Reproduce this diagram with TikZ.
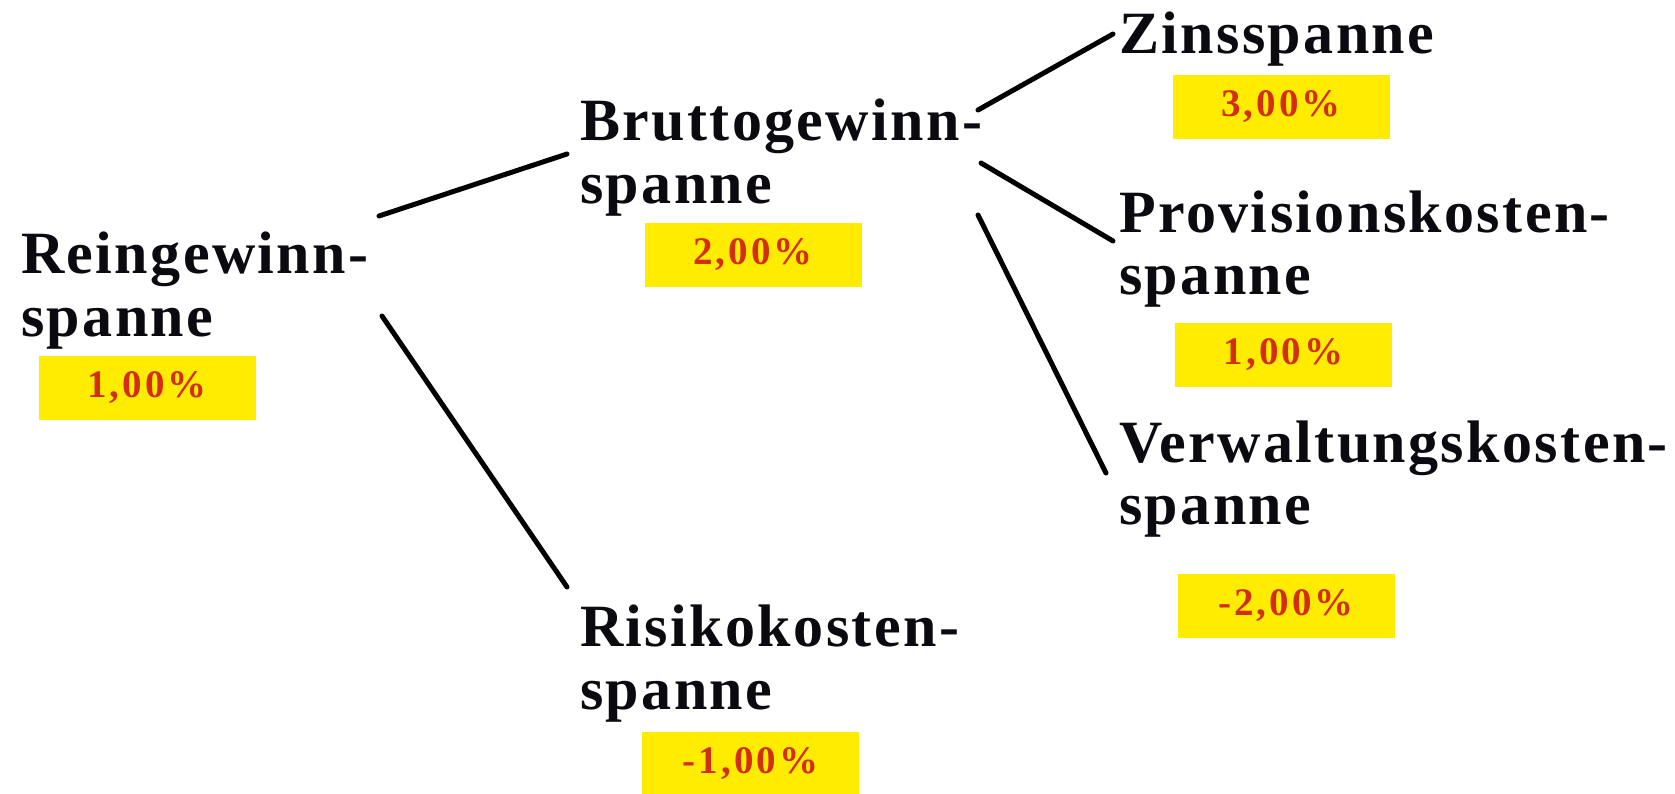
\documentclass[tikz,border=0pt]{standalone}
\usepackage{fontspec}
\setmainfont{Liberation Serif}
\newfontfamily\headfont[LetterSpace=4]{Liberation Serif}
\newfontfamily\pctfont[LetterSpace=8]{Liberation Serif}
\definecolor{boxyellow}{RGB}{255,236,0}
\definecolor{pctred}{RGB}{212,46,18}
\definecolor{headink}{RGB}{10,10,16}
\tikzset{
  head/.style={font=\headfont\bfseries\fontsize{60}{64}\selectfont, anchor=base west, inner sep=0pt, text=headink},
  pctbox/.style={fill=boxyellow, minimum width=217pt, minimum height=64pt, inner sep=0pt, text=pctred,
    font=\pctfont\bfseries\fontsize{39}{39}\selectfont},
  conn/.style={line width=5pt, line cap=round, black}
}
\begin{document}
\begin{tikzpicture}[x=1pt,y=-1pt]
\useasboundingbox (0,0) rectangle (1675,793);
\fill[white] (0,0) rectangle (1675,793);
% Reingewinnspanne
\node[head] (rein1) at (21,273) {Reingewinn-};
\node[head] (rein2) at (21,336) {spanne};
\node[pctbox] (reinp) at (147,387.5) {1,00\%};
% Bruttogewinnspanne
\node[head] (brut1) at (580,140) {Bruttogewinn-};
\node[head] (brut2) at (580,203) {spanne};
\node[pctbox] (brutp) at (753,254.5) {2,00\%};
% Risikokostenspanne
\node[head] (risk1) at (580,646) {Risikokosten-};
\node[head] (risk2) at (580,709) {spanne};
\node[pctbox] (riskp) at (750.5,764) {-1,00\%};
% Zinsspanne
\node[head] (zins1) at (1119,53) {Zinsspanne};
\node[pctbox] (zinsp) at (1281,107) {3,00\%};
% Provisionskostenspanne
\node[head] (prov1) at (1119,232) {Provisionskosten-};
\node[head] (prov2) at (1119,294) {spanne};
\node[pctbox] (provp) at (1283.5,355) {1,00\%};
% Verwaltungskostenspanne
\node[head] (verw1) at (1119,462) {Verwaltungskosten-};
\node[head] (verw2) at (1119,524) {spanne};
\node[pctbox] (verwp) at (1286,606) {-2,00\%};
% connector ends
\coordinate (l1a) at (379,216);
\coordinate (l1b) at (567,154);
\coordinate (l2a) at (382,316);
\coordinate (l2b) at (567,587);
\coordinate (l3a) at (978,110);
\coordinate (l3b) at (1113,34);
\coordinate (l4a) at (981,163);
\coordinate (l4b) at (1113,241);
\coordinate (l5a) at (978,215);
\coordinate (l5b) at (1106,473);
\draw[conn] (l1a) -- (l1b);
\draw[conn] (l2a) -- (l2b);
\draw[conn] (l3a) -- (l3b);
\draw[conn] (l4a) -- (l4b);
\draw[conn] (l5a) -- (l5b);
\end{tikzpicture}
\end{document}
